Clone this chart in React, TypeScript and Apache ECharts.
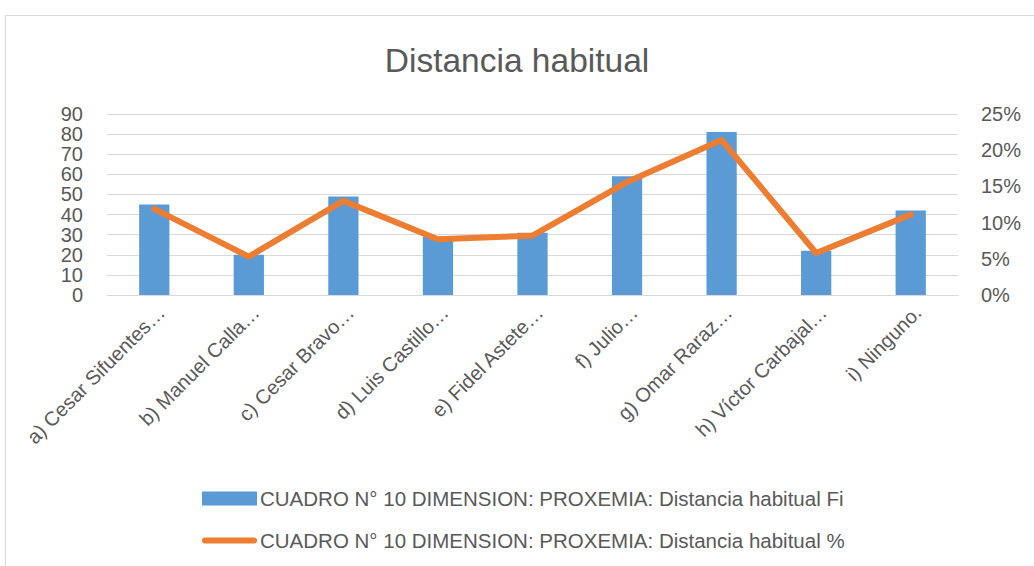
import React, { useEffect, useRef } from "react";
import * as echarts from "echarts";

const categories = [
  "a) Cesar Sifuentes…",
  "b) Manuel Calla…",
  "c) Cesar Bravo…",
  "d) Luis Castillo…",
  "e) Fidel Astete…",
  "f) Julio…",
  "g) Omar Raraz…",
  "h) Víctor Carbajal…",
  "i) Ninguno.",
];
const fiValues = [45, 20, 49, 29, 31, 59, 81, 22, 42];
const pctValues = [0.119, 0.053, 0.13, 0.077, 0.082, 0.156, 0.214, 0.058, 0.111];
const leftTicks = { min: 0, max: 90, interval: 10 };
const rightTicks = { min: 0, max: 0.25, interval: 0.05 };

const seriesFi = "CUADRO N° 10 DIMENSION: PROXEMIA: Distancia habitual Fi";
const seriesPct = "CUADRO N° 10 DIMENSION: PROXEMIA: Distancia habitual %";

const FONT = "Liberation Sans";
const TXT = "#595959";
const lineIcon =
  "path://M3,0 L53,0 A3,3 0 0 1 53,6 L3,6 A3,3 0 0 1 3,0 Z";

export default function App() {
  const ref = useRef<HTMLDivElement>(null);
  useEffect(() => {
    if (!ref.current) return;
    const chart = echarts.init(ref.current, null, { renderer: "svg" });
    chart.setOption({
      animation: false,
      backgroundColor: "#ffffff",
      textStyle: { fontFamily: FONT },
      title: {
        text: "Distancia habitual",
        left: "center",
        top: 38,
        textStyle: { fontFamily: FONT, fontSize: 33.5, fontWeight: "normal", color: TXT },
      },
      graphic: [
        {
          type: "rect",
          shape: { x: 5.5, y: 15.5, width: 1040, height: 570 },
          style: { fill: "none", stroke: "#d9d9d9", lineWidth: 1 },
          silent: true,
        },
      ],
      grid: { left: 107, right: 76, top: 114, bottom: 271, containLabel: false },
      legend: {
        orient: "vertical",
        left: 197,
        top: 483,
        itemWidth: 55,
        itemHeight: 14,
        itemGap: 21,
        textStyle: { fontFamily: FONT, fontSize: 20.5, color: TXT, padding: [0, 0, 0, -2] },
        data: [
          { name: seriesFi, icon: "rect" },
          { name: seriesPct, icon: lineIcon },
        ],
      },
      xAxis: {
        type: "category",
        data: categories,
        axisLine: { lineStyle: { color: "#d9d9d9" } },
        axisTick: { show: false },
        axisLabel: {
          rotate: 45,
          interval: 0,
          color: TXT,
          fontFamily: FONT,
          fontSize: 20,
          margin: 7,
          verticalAlign: "top",
        },
      },
      yAxis: [
        {
          type: "value",
          min: leftTicks.min,
          max: leftTicks.max,
          interval: leftTicks.interval,
          axisLine: { show: false },
          axisTick: { show: false },
          splitLine: { lineStyle: { color: "#d9d9d9", width: 1 } },
          axisLabel: { color: TXT, fontFamily: FONT, fontSize: 20, margin: 24 },
        },
        {
          type: "value",
          min: rightTicks.min,
          max: rightTicks.max,
          interval: rightTicks.interval,
          position: "right",
          axisLine: { show: false },
          axisTick: { show: false },
          splitLine: { show: false },
          axisLabel: {
            color: TXT,
            fontFamily: FONT,
            fontSize: 20,
            margin: 23,
            formatter: (v: number) => Math.round(v * 100) + "%",
          },
        },
      ],
      series: [
        {
          name: seriesFi,
          type: "bar",
          data: fiValues,
          yAxisIndex: 0,
          barWidth: "32%",
          itemStyle: { color: "#5B9BD5" },
        },
        {
          name: seriesPct,
          type: "line",
          data: pctValues,
          yAxisIndex: 1,
          symbol: "none",
          lineStyle: { color: "#ED7D31", width: 6, cap: "round", join: "round" },
          itemStyle: { color: "#ED7D31" },
        },
      ],
    });
    return () => chart.dispose();
  }, []);
  return (
    <div
      ref={ref}
      style={{ position: "absolute", left: 0, top: 0, width: 1034, height: 566 }}
    />
  );
}
